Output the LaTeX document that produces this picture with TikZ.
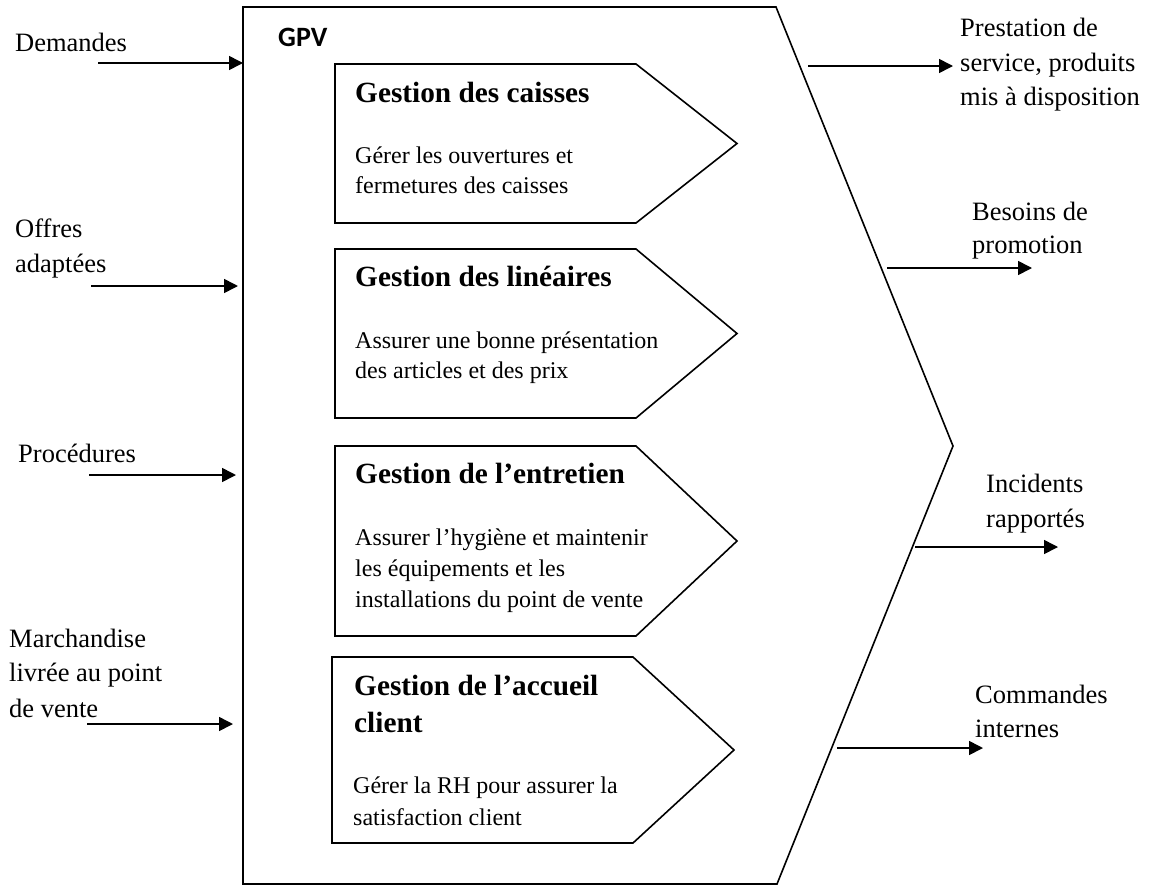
\documentclass[tikz,border=0pt]{standalone}
\usepackage{fontspec}
\setmainfont{Liberation Serif}
\newfontfamily\calibrifont{Carlito}
\usetikzlibrary{arrows.meta}
\begin{document}
\begin{tikzpicture}[x=1pt,y=-1pt,
  outline/.style={line width=1.6pt, line join=miter},
  flow/.style={line width=1.6pt, -{Triangle[length=14pt,width=14pt]}},
  lbl/.style={anchor=base west, inner sep=0pt, font=\fontsize{26.5}{35}\selectfont},
  ttl/.style={anchor=base west, inner sep=0pt, font=\fontsize{29.3}{38}\selectfont\bfseries},
  body/.style={anchor=base west, inner sep=0pt, font=\fontsize{24}{31}\selectfont},
]
\useasboundingbox (0,0) rectangle (1153,886);

% outer process GPV
\coordinate (gTL) at (243,7);
\coordinate (gTR) at (776,7);
\coordinate (gTip) at (953,446);
\coordinate (gBR) at (777,884);
\coordinate (gBL) at (243,884);
\draw[outline] (gTL) -- (gTR) -- (gTip) -- (gBR) -- (gBL) -- cycle;
\node[anchor=base west, inner sep=0pt, font=\calibrifont\bfseries\fontsize{28}{32}\selectfont] (gpv) at (278,46) {GPV};

% sub-processes: name/left/top/bottom/corner/tip
\foreach \n/\l/\t/\b/\c/\p in {b1/335/64/223/636/737, b2/335/249/418/636/737,
                               b3/335/446/636/636/737, b4/332/657/843/633/734} {
  \coordinate (\n-nw) at (\l,\t);
  \coordinate (\n-ne) at (\c,\t);
  \coordinate (\n-tip) at (\p,{(\t+\b)/2});
  \coordinate (\n-se) at (\c,\b);
  \coordinate (\n-sw) at (\l,\b);
  \draw[outline] (\n-nw) -- (\n-ne) -- (\n-tip) -- (\n-se) -- (\n-sw) -- cycle;
}

\node[ttl] (t1) at (355,102) {Gestion des caisses};
\node[body] (d1a) at (355,163) {Gérer les ouvertures et};
\node[body] (d1b) at (355,193) {fermetures des caisses};

\node[ttl] (t2) at (355,286) {Gestion des linéaires};
\node[body] (d2a) at (355,348) {Assurer une bonne présentation};
\node[body] (d2b) at (355,378) {des articles et des prix};

\node[ttl] (t3) at (355,483) {Gestion de l’entretien};
\node[body] (d3a) at (355,545) {Assurer l’hygiène et maintenir};
\node[body] (d3b) at (355,576) {les équipements et les};
\node[body] (d3c) at (355,607) {installations du point de vente};

\node[ttl] (t4a) at (354,695) {Gestion de l’accueil};
\node[ttl] (t4b) at (354,732) {client};
\node[body] (d4a) at (353,793) {Gérer la RH pour assurer la};
\node[body] (d4b) at (353,825) {satisfaction client};

% inputs
\node[lbl] (dem) at (15,51) {Demandes};
\node[lbl] (off1) at (15,237) {Offres};
\node[lbl] (off2) at (15,272) {adaptées};
\node[lbl] (proc) at (18,462) {Procédures};
\node[lbl] (mar1) at (9,647) {Marchandise};
\node[lbl] (mar2) at (9,681) {livrée au point};
\node[lbl] (mar3) at (9,717) {de vente};

\coordinate (inA) at (98,63);   \coordinate (inAe) at (243,63);
\coordinate (inB) at (91,286);  \coordinate (inBe) at (238,286);
\coordinate (inC) at (89,475);  \coordinate (inCe) at (236,475);
\coordinate (inD) at (87,724);  \coordinate (inDe) at (233,724);
\draw[flow] (inA) -- (inAe);
\draw[flow] (inB) -- (inBe);
\draw[flow] (inC) -- (inCe);
\draw[flow] (inD) -- (inDe);

% outputs
\node[lbl] (pre1) at (960,36) {Prestation de};
\node[lbl] (pre2) at (960,71) {service, produits};
\node[lbl] (pre3) at (960,105) {mis à disposition};
\node[lbl] (bes1) at (972,220) {Besoins de};
\node[lbl] (bes2) at (972,253) {promotion};
\node[lbl] (inc1) at (986,492) {Incidents};
\node[lbl] (inc2) at (986,527) {rapportés};
\node[lbl] (com1) at (975,703) {Commandes};
\node[lbl] (com2) at (975,737) {internes};

\coordinate (outA) at (808,66);  \coordinate (outAe) at (953,66);
\coordinate (outB) at (887,268); \coordinate (outBe) at (1032,268);
\coordinate (outC) at (915,547); \coordinate (outCe) at (1058,547);
\coordinate (outD) at (837,748); \coordinate (outDe) at (983,748);
\draw[flow] (outA) -- (outAe);
\draw[flow] (outB) -- (outBe);
\draw[flow] (outC) -- (outCe);
\draw[flow] (outD) -- (outDe);
\end{tikzpicture}
\end{document}
